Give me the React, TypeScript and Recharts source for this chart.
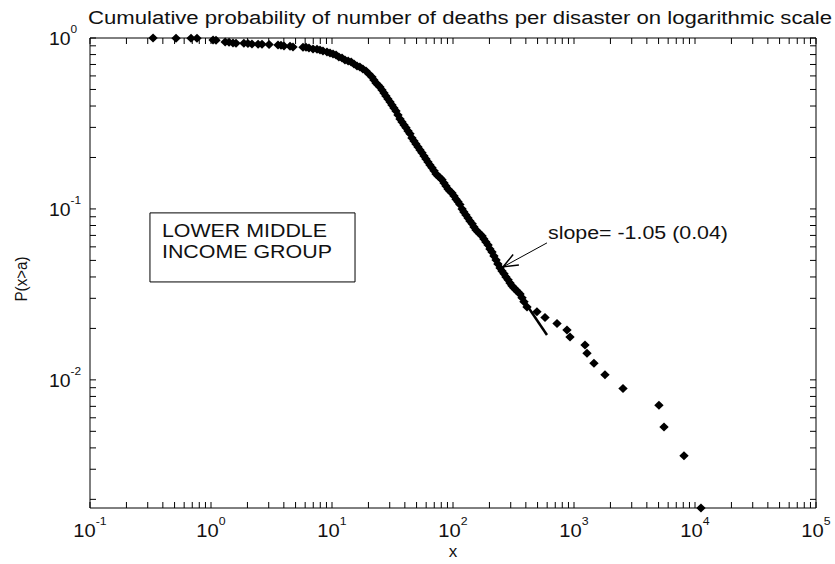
import React from 'react';
import {
  ComposedChart,
  Scatter,
  XAxis,
  YAxis,
  ReferenceArea,
  ReferenceLine,
  Label,
} from 'recharts';

// Number of deaths per disaster (sorted) and the empirical P(x>a)
const DEATHS = [
  0.332, 0.514, 0.684, 0.766, 1.04, 1.1, 1.31, 1.41, 1.52, 1.61,
  1.87, 2.02, 2.18, 2.45, 2.64, 3.02, 3.58, 3.79, 4.01, 4.5,
  4.76, 5.76, 6.1, 6.45, 6.97, 7.52, 7.96, 8.42, 9.09, 9.63,
  10.2, 10.8, 11.4, 12.1, 12.8, 13.6, 14.4, 15.2, 16.1, 17.0,
  18.0, 19.1, 20.2, 21.4, 22.2, 23.1, 24.0, 24.9, 25.9, 26.9,
  27.9, 29.0, 30.2, 31.3, 32.5, 33.8, 35.1, 36.5, 37.9, 39.4,
  40.9, 42.5, 44.1, 45.8, 47.6, 49.4, 51.4, 53.4, 55.4, 57.6,
  59.8, 62.1, 64.5, 67.1, 69.7, 72.4, 75.2, 78.1, 81.1, 84.3,
  87.5, 90.9, 94.5, 98.1, 102, 106, 110, 114, 119, 123,
  128, 133, 138, 144, 149, 155, 161, 167, 174, 180,
  187, 195, 202, 210, 218, 227, 235, 245, 254, 264,
  274, 285, 296, 307, 319, 332, 344, 358, 372, 386,
  409, 494, 576, 724, 875, 927, 1233, 1281, 1462, 1803,
  2541, 5035, 5545, 8110, 11200,
];

const PROB = [
  1.0, 0.998, 0.996, 0.995, 0.973, 0.97, 0.948, 0.945, 0.935, 0.933,
  0.931, 0.929, 0.922, 0.92, 0.918, 0.916, 0.91, 0.907, 0.898, 0.896,
  0.886, 0.884, 0.882, 0.874, 0.862, 0.86, 0.851, 0.839, 0.828, 0.817,
  0.806, 0.795, 0.774, 0.764, 0.744, 0.734, 0.724, 0.705, 0.686, 0.677,
  0.659, 0.641, 0.616, 0.591, 0.568, 0.546, 0.531, 0.517, 0.497, 0.477,
  0.458, 0.44, 0.422, 0.406, 0.39, 0.374, 0.355, 0.336, 0.323, 0.31,
  0.298, 0.286, 0.275, 0.26, 0.25, 0.24, 0.23, 0.221, 0.213, 0.204,
  0.196, 0.188, 0.181, 0.174, 0.167, 0.16, 0.156, 0.152, 0.148, 0.142,
  0.136, 0.131, 0.127, 0.124, 0.119, 0.114, 0.11, 0.106, 0.1, 0.096,
  0.0922, 0.0886, 0.0851, 0.0818, 0.0785, 0.0754, 0.0734, 0.0714, 0.0695, 0.0668,
  0.0641, 0.0616, 0.0583, 0.056, 0.0531, 0.0503, 0.0477, 0.0452, 0.0434, 0.0417,
  0.04, 0.0385, 0.0369, 0.0355, 0.0345, 0.0336, 0.0327, 0.0318, 0.0302, 0.0286,
  0.0267, 0.025, 0.0232, 0.0214, 0.0196, 0.0178, 0.016, 0.0143, 0.0125, 0.0107,
  0.0089, 0.0071, 0.0053, 0.0036, 0.00178,
];

// Fitted power-law tail
const FIT_SLOPE = -1.05;
const FIT_SLOPE_SE = 0.04;
const FIT_X = [100, 598];
const FIT_END_P = 0.0183;

// Axis decades and exponent labels
const X_DECADES = [0.1, 1, 10, 100, 1000, 10000, 100000];
const X_EXPONENTS = ['-1', '0', '1', '2', '3', '4', '5'];
const Y_DECADES = [0.01, 0.1, 1];
const Y_EXPONENTS = ['-2', '-1', '0'];
const MINOR_STEPS = [2, 3, 4, 5, 6, 7, 8, 9];
const X_MIN = 0.1;
const X_MAX = 100000;
const Y_MIN = 0.00178;
const Y_MAX = 1;

// Annotation anchors (data coordinates)
const GROUP_LINES = ['LOWER MIDDLE', 'INCOME GROUP'];
const GROUP_BOX = { x1: 0.313, x2: 15.5, y1: 0.0374, y2: 0.0948 };
const ARROW_FROM = { x: 598, y: 0.0633 };
const ARROW_TO = { x: 259, y: 0.0458 };

const TITLE = 'Cumulative probability of number of deaths per disaster on logarithmic scale';
const X_TITLE = 'x';
const Y_TITLE = 'P(x>a)';

// Layout
const W = 835;
const H = 564;
const LEFT = 90;
const RIGHT = 816;
const TOP = 38;
const BOTTOM = 508;
const TICK_LEN = 6;
const FONT = "'Liberation Sans', Arial, Helvetica, sans-serif";
const INK = '#111';

const points = DEATHS.map((x, i) => ({ x, p: PROB[i] }));
const fitPoints = FIT_X.map((x) => ({
  x,
  p: FIT_END_P * Math.pow(x / FIT_X[FIT_X.length - 1], FIT_SLOPE),
}));

const withMinor = (decades: number[], lo: number, hi: number) => {
  const out: number[] = [];
  decades.forEach((d) => {
    out.push(d);
    MINOR_STEPS.forEach((m) => out.push(d * m));
    MINOR_STEPS.forEach((m) => out.push((d / 10) * m));
  });
  return Array.from(new Set(out))
    .filter((v) => v >= lo * 0.9999 && v <= hi * 1.0001)
    .sort((a, b) => a - b);
};

const X_TICKS = withMinor(X_DECADES, X_MIN, X_MAX);
const Y_TICKS = withMinor(Y_DECADES, Y_MIN, Y_MAX);

const decadeIndex = (list: number[], v: number) =>
  list.findIndex((d) => Math.abs(Math.log10(d) - Math.log10(v)) < 1e-6);

const renderXTick = (props: any) => {
  const { x, payload } = props;
  const idx = decadeIndex(X_DECADES, payload.value);
  return (
    <g>
      <line x1={x} x2={x} y1={BOTTOM} y2={BOTTOM - TICK_LEN} stroke="#000" />
      <line x1={x} x2={x} y1={TOP} y2={TOP + TICK_LEN} stroke="#000" />
      {idx >= 0 && (
        <text
          transform={`translate(${x} ${BOTTOM + 29}) scale(1.12 1)`}
          textAnchor="middle"
          fontSize={18}
          fontFamily={FONT}
          fill={INK}
        >
          <tspan>10</tspan>
          <tspan fontSize={11} dy={-12}>
            {X_EXPONENTS[idx]}
          </tspan>
        </text>
      )}
    </g>
  );
};

const renderYTick = (props: any) => {
  const { y, payload } = props;
  const idx = decadeIndex(Y_DECADES, payload.value);
  return (
    <g>
      <line x1={LEFT} x2={LEFT + TICK_LEN} y1={y} y2={y} stroke="#000" />
      <line x1={RIGHT} x2={RIGHT - TICK_LEN} y1={y} y2={y} stroke="#000" />
      {idx >= 0 && (
        <text
          transform={`translate(49 ${y + 7}) scale(1.08 1)`}
          textAnchor="start"
          fontSize={18}
          fontFamily={FONT}
          fill={INK}
        >
          <tspan>10</tspan>
          <tspan fontSize={11} dy={-12}>
            {Y_EXPONENTS[idx]}
          </tspan>
        </text>
      )}
    </g>
  );
};

const Diamond = (props: any) => {
  const { cx, cy } = props;
  if (cx == null || cy == null) return <g />;
  const rx = 4.7;
  const ry = 4.5;
  return (
    <polygon
      points={`${cx},${cy - ry} ${cx + rx},${cy} ${cx},${cy + ry} ${cx - rx},${cy}`}
      fill="#000"
    />
  );
};

const NoMarker = () => <g />;

const renderArrow = (props: any) => {
  const { x1, y1, x2, y2 } = props;
  const ang = Math.atan2(y2 - y1, x2 - x1);
  const len = 16;
  const spread = (22 * Math.PI) / 180;
  const b1x = x2 - len * Math.cos(ang - spread);
  const b1y = y2 - len * Math.sin(ang - spread);
  const b2x = x2 - len * Math.cos(ang + spread);
  const b2y = y2 - len * Math.sin(ang + spread);
  return (
    <g>
      <line x1={x1} y1={y1} x2={x2} y2={y2} stroke="#000" strokeWidth={1} />
      <polyline
        points={`${b1x},${b1y} ${x2},${y2} ${b2x},${b2y}`}
        fill="none"
        stroke="#000"
        strokeWidth={1.5}
      />
      <text
        x={x1 + 1}
        y={y1 - 4}
        fontSize={18}
        fontFamily={FONT}
        fill={INK}
        textLength={180}
        lengthAdjust="spacingAndGlyphs"
      >
        {`slope= ${FIT_SLOPE.toFixed(2)} (${FIT_SLOPE_SE.toFixed(2)})`}
      </text>
    </g>
  );
};

const renderGroupText = (props: any) => {
  const vb = props.viewBox || {};
  const x0 = vb.x + 12;
  const y0 = vb.y + 24;
  return (
    <g>
      {GROUP_LINES.map((line, i) => (
        <text
          key={line}
          x={x0}
          y={y0 + i * 21}
          fontSize={18}
          fontFamily={FONT}
          fill={INK}
          textLength={i === 0 ? 165 : 170}
          lengthAdjust="spacingAndGlyphs"
        >
          {line}
        </text>
      ))}
    </g>
  );
};

const renderTitle = () => (
  <text
    x={88}
    y={24}
    fontSize={18}
    fontFamily={FONT}
    fill={INK}
    textLength={744}
    lengthAdjust="spacingAndGlyphs"
  >
    {TITLE}
  </text>
);

const renderXTitle = () => (
  <text
    x={(LEFT + RIGHT) / 2}
    y={557}
    textAnchor="middle"
    fontSize={17}
    fontFamily={FONT}
    fill={INK}
  >
    {X_TITLE}
  </text>
);

const renderYTitle = () => (
  <text
    transform={`translate(27 ${(TOP + BOTTOM) / 2 + 6}) rotate(-90)`}
    textAnchor="middle"
    fontSize={16}
    fontFamily={FONT}
    fill={INK}
    textLength={45}
    lengthAdjust="spacingAndGlyphs"
  >
    {Y_TITLE}
  </text>
);

export default function App() {
  return (
    <div
      style={{
        position: 'absolute',
        left: 0,
        top: 0,
        width: W,
        height: H,
        background: '#fff',
      }}
    >
      <ComposedChart
        width={W}
        height={H}
        margin={{ top: TOP, right: W - RIGHT, bottom: 0, left: 0 }}
      >
        <XAxis
          xAxisId="x"
          dataKey="x"
          type="number"
          scale="log"
          domain={[X_MIN, X_MAX]}
          ticks={X_TICKS}
          interval={0}
          height={H - BOTTOM}
          tickLine={false}
          axisLine={false}
          tick={renderXTick}
        >
          <Label content={renderXTitle} />
        </XAxis>
        <YAxis
          yAxisId="y"
          dataKey="p"
          type="number"
          scale="log"
          domain={[Y_MIN, Y_MAX]}
          ticks={Y_TICKS}
          interval={0}
          width={LEFT}
          tickLine={false}
          axisLine={false}
          tick={renderYTick}
        >
          <Label content={renderYTitle} />
        </YAxis>
        <ReferenceArea
          xAxisId="x"
          yAxisId="y"
          x1={X_MIN}
          x2={X_MAX}
          y1={Y_MIN}
          y2={Y_MAX}
          fill="none"
          fillOpacity={0}
          stroke="#000"
          strokeWidth={1}
          strokeOpacity={1}
          ifOverflow="visible"
        >
          <Label content={renderTitle} />
        </ReferenceArea>
        <ReferenceArea
          xAxisId="x"
          yAxisId="y"
          x1={GROUP_BOX.x1}
          x2={GROUP_BOX.x2}
          y1={GROUP_BOX.y1}
          y2={GROUP_BOX.y2}
          fill="#fff"
          fillOpacity={1}
          stroke="#000"
          strokeWidth={1}
          strokeOpacity={1}
        >
          <Label content={renderGroupText} />
        </ReferenceArea>
        <Scatter
          xAxisId="x"
          yAxisId="y"
          data={points}
          dataKey="p"
          shape={Diamond}
          isAnimationActive={false}
        />
        <Scatter
          xAxisId="x"
          yAxisId="y"
          data={fitPoints}
          dataKey="p"
          shape={NoMarker}
          line={{ stroke: '#000', strokeWidth: 2.5 }}
          lineType="joint"
          isAnimationActive={false}
        />
        <ReferenceLine
          xAxisId="x"
          yAxisId="y"
          segment={[ARROW_FROM, ARROW_TO]}
          shape={renderArrow}
          ifOverflow="visible"
        />
      </ComposedChart>
    </div>
  );
}
